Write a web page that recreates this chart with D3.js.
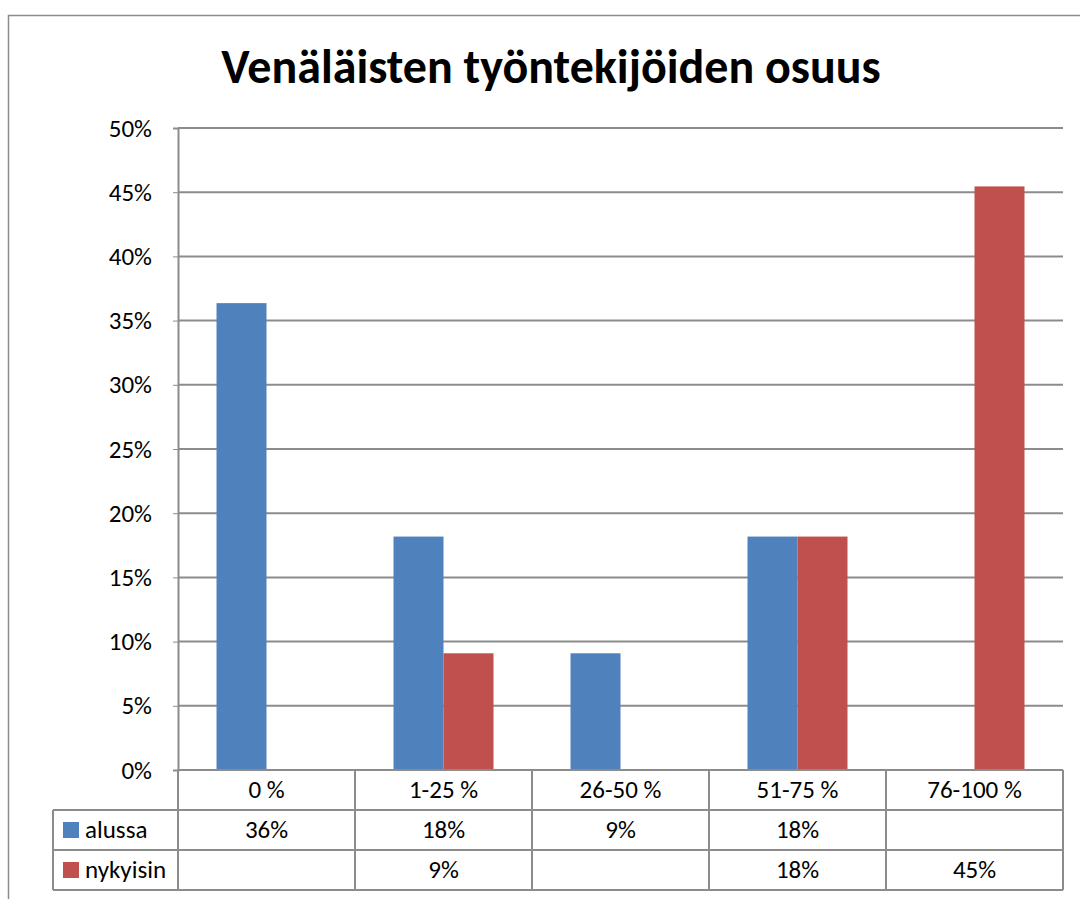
<!DOCTYPE html>
<html>
<head>
<meta charset="utf-8">
<title>Venäläisten työntekijöiden osuus</title>
<script src="https://d3js.org/d3.v7.min.js"></script>
<style>
	body { margin: 0; background: #fff; }
	text { font-family: Carlito, Calibri, Lato, "Open Sans", sans-serif; fill: #000; }
</style>
</head>
<body>
<script>
// chart data
var categories = ['0 %', '1-25 %', '26-50 %', '51-75 %', '76-100 %'];
var seriesNames = ['alussa', 'nykyisin'];
var alussa = [36.36, 18.18, 9.09, 18.18, null];
var nykyisin = [null, 9.09, null, 18.18, 45.45];
var alussaLabels = ['36%', '18%', '9%', '18%', ''];
var nykyisinLabels = ['', '9%', '', '18%', '45%'];
var yTicks = [0, 5, 10, 15, 20, 25, 30, 35, 40, 45, 50];
var colors = ['#4F81BD', '#C0504D'];

var width = 1080, height = 899;
var margin = {top: 128, left: 178, right: 1063, bottom: 770};
var rowH = 40;
var gridColor = '#8c8c8c';
var fs = 25;

var svg = d3.select('body').append('svg')
	.attr('width', width)
	.attr('height', height);

// outer chart border (clipped like the reference)
svg.append('rect')
	.attr('x', 8.5).attr('y', 15.5)
	.attr('width', 1100).attr('height', 1000)
	.attr('fill', 'none')
	.attr('stroke', '#8c8c8c')
	.attr('stroke-width', 1.5);

svg.append('text')
	.attr('x', 551)
	.attr('y', 83)
	.attr('text-anchor', 'middle')
	.attr('font-size', 48)
	.attr('font-weight', 'bold')
	.text('Venäläisten työntekijöiden osuus');

var x0 = d3.scaleBand()
	.domain(categories)
	.range([margin.left, margin.right]);

var x1 = d3.scaleBand()
	.domain(seriesNames)
	.range([0, 100]);

var y = d3.scaleLinear()
	.domain([0, 50])
	.range([margin.bottom, margin.top]);

// gridlines
svg.append('g')
	.selectAll('line')
	.data(yTicks)
	.enter()
	.append('line')
	.attr('x1', margin.left)
	.attr('x2', margin.right)
	.attr('y1', function(d) { return y(d); })
	.attr('y2', function(d) { return y(d); })
	.attr('stroke', gridColor)
	.attr('stroke-width', 2);

// y axis
var yAxis = svg.append('g')
	.attr('transform', 'translate(' + margin.left + ',0)')
	.call(d3.axisLeft(y).tickValues(yTicks).tickFormat(function(d) { return d + '%'; }).tickSize(5).tickPadding(21));
yAxis.select('.domain').attr('stroke', gridColor).attr('stroke-width', 2);
yAxis.selectAll('.tick line').attr('stroke', gridColor).attr('stroke-width', 1);
yAxis.selectAll('.tick text').attr('font-size', fs).attr('font-family', 'Carlito, Calibri, Lato, "Open Sans", sans-serif');

// bars
var seriesData = [alussa, nykyisin];
seriesData.forEach(function(vals, si) {
	svg.append('g')
		.selectAll('rect')
		.data(vals.map(function(v, i) { return {cat: categories[i], v: v}; }).filter(function(d) { return d.v !== null; }))
		.enter()
		.append('rect')
		.attr('x', function(d) { return x0(d.cat) + (x0.bandwidth() - 100) / 2 + x1(seriesNames[si]); })
		.attr('y', function(d) { return y(d.v); })
		.attr('width', x1.bandwidth())
		.attr('height', function(d) { return y(0) - y(d.v); })
		.attr('fill', colors[si]);
});

// data table
var table = svg.append('g');
var tableLeft = 53;
var rows = [alussaLabels, nykyisinLabels];

// category row
categories.forEach(function(c) {
	table.append('text')
		.attr('x', x0(c) + x0.bandwidth() / 2)
		.attr('y', margin.bottom + rowH / 2 + 8)
		.attr('text-anchor', 'middle')
		.attr('font-size', fs)
		.text(c);
});

rows.forEach(function(r, ri) {
	var top = margin.bottom + rowH * (ri + 1);
	table.append('rect')
		.attr('x', tableLeft + 10)
		.attr('y', top + rowH / 2 - 8)
		.attr('width', 16).attr('height', 16)
		.attr('fill', colors[ri]);
	table.append('text')
		.attr('x', tableLeft + 32)
		.attr('y', top + rowH / 2 + 8)
		.attr('font-size', fs)
		.text(seriesNames[ri]);
	r.forEach(function(t, i) {
		table.append('text')
			.attr('x', x0(categories[i]) + x0.bandwidth() / 2)
			.attr('y', top + rowH / 2 + 8)
			.attr('text-anchor', 'middle')
			.attr('font-size', fs)
			.text(t);
	});
});

// table lines
var hLines = [
	{x1: margin.left, y: margin.bottom},
	{x1: tableLeft, y: margin.bottom + rowH},
	{x1: tableLeft, y: margin.bottom + rowH * 2},
	{x1: tableLeft, y: margin.bottom + rowH * 3}
];
table.selectAll('.hl')
	.data(hLines)
	.enter()
	.append('line')
	.attr('x1', function(d) { return d.x1; })
	.attr('x2', margin.right)
	.attr('y1', function(d) { return d.y; })
	.attr('y2', function(d) { return d.y; })
	.attr('stroke', gridColor)
	.attr('stroke-width', 2);

var vx = categories.map(function(c) { return x0(c); }).concat([margin.right]);
table.selectAll('.vl')
	.data(vx)
	.enter()
	.append('line')
	.attr('x1', function(d) { return d; })
	.attr('x2', function(d) { return d; })
	.attr('y1', margin.bottom)
	.attr('y2', margin.bottom + rowH * 3)
	.attr('stroke', gridColor)
	.attr('stroke-width', 2);
table.append('line')
	.attr('x1', tableLeft).attr('x2', tableLeft)
	.attr('y1', margin.bottom + rowH)
	.attr('y2', margin.bottom + rowH * 3)
	.attr('stroke', gridColor)
	.attr('stroke-width', 2);
</script>
</body>
</html>
